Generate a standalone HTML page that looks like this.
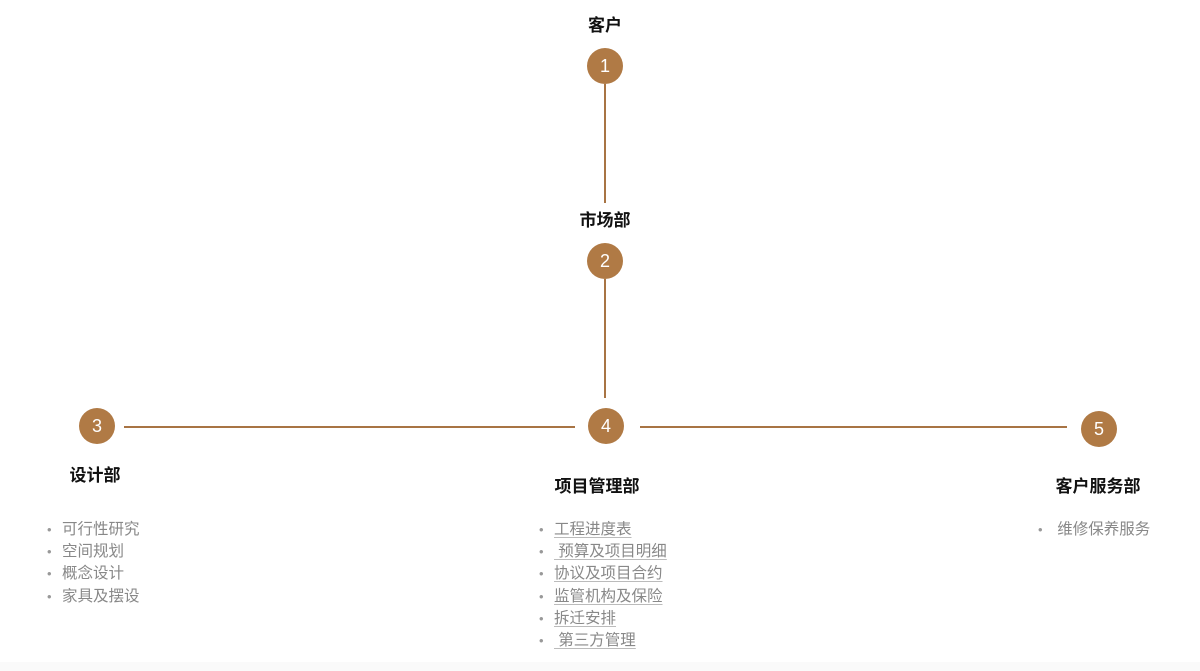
<!DOCTYPE html>
<html><head><meta charset="utf-8"><style>
body{margin:0;width:1200px;height:671px;background:#fff;position:relative;overflow:hidden;font-family:"Liberation Sans","Noto Sans CJK SC",sans-serif}
.c{position:absolute;width:36px;height:36px;border-radius:50%;background:#b07a45;color:#fff;font-size:18px;line-height:36px;text-align:center}
.l{position:absolute;background:#a87444}
.t{position:absolute;font-size:17px;font-weight:bold;color:#111;white-space:nowrap;transform:translateX(-50%);line-height:20px}
ul{position:absolute;margin:0;padding:0;list-style:none;font-size:15.5px;color:#888;line-height:22.2px}
li{position:relative;padding-left:15px;white-space:nowrap}
li:before{content:"•";position:absolute;left:0;color:#999;font-size:13px}
.u li span{text-decoration:underline;text-decoration-color:#bbb;text-underline-offset:3px}
.bot{position:absolute;left:0;right:0;top:662px;bottom:0;background:#fafafa}
</style></head><body>
<div class="t" style="left:605px;top:16px">客户</div>
<div class="c" style="left:587px;top:48px">1</div>
<div class="l" style="left:604px;top:84px;width:2px;height:119px"></div>
<div class="t" style="left:605px;top:211px">市场部</div>
<div class="c" style="left:587px;top:243px">2</div>
<div class="l" style="left:604px;top:279px;width:2px;height:119px"></div>
<div class="c" style="left:79px;top:408px">3</div>
<div class="l" style="left:124px;top:426px;width:451px;height:2px"></div>
<div class="c" style="left:588px;top:408px">4</div>
<div class="l" style="left:640px;top:426px;width:427px;height:2px"></div>
<div class="c" style="left:1081px;top:411px">5</div>
<div class="t" style="left:95px;top:466px">设计部</div>
<div class="t" style="left:597px;top:477px">项目管理部</div>
<div class="t" style="left:1098px;top:477px">客户服务部</div>
<ul style="left:47px;top:519px"><li>可行性研究</li><li>空间规划</li><li>概念设计</li><li>家具及摆设</li></ul>
<ul class="u" style="left:539px;top:519px"><li><span>工程进度表</span></li><li><span>&nbsp;预算及项目明细</span></li><li><span>协议及项目合约</span></li><li><span>监管机构及保险</span></li><li><span>拆迁安排</span></li><li><span>&nbsp;第三方管理</span></li></ul>
<ul style="left:1038px;top:519px"><li>&nbsp;维修保养服务</li></ul>
<div class="bot"></div>
</body></html>
